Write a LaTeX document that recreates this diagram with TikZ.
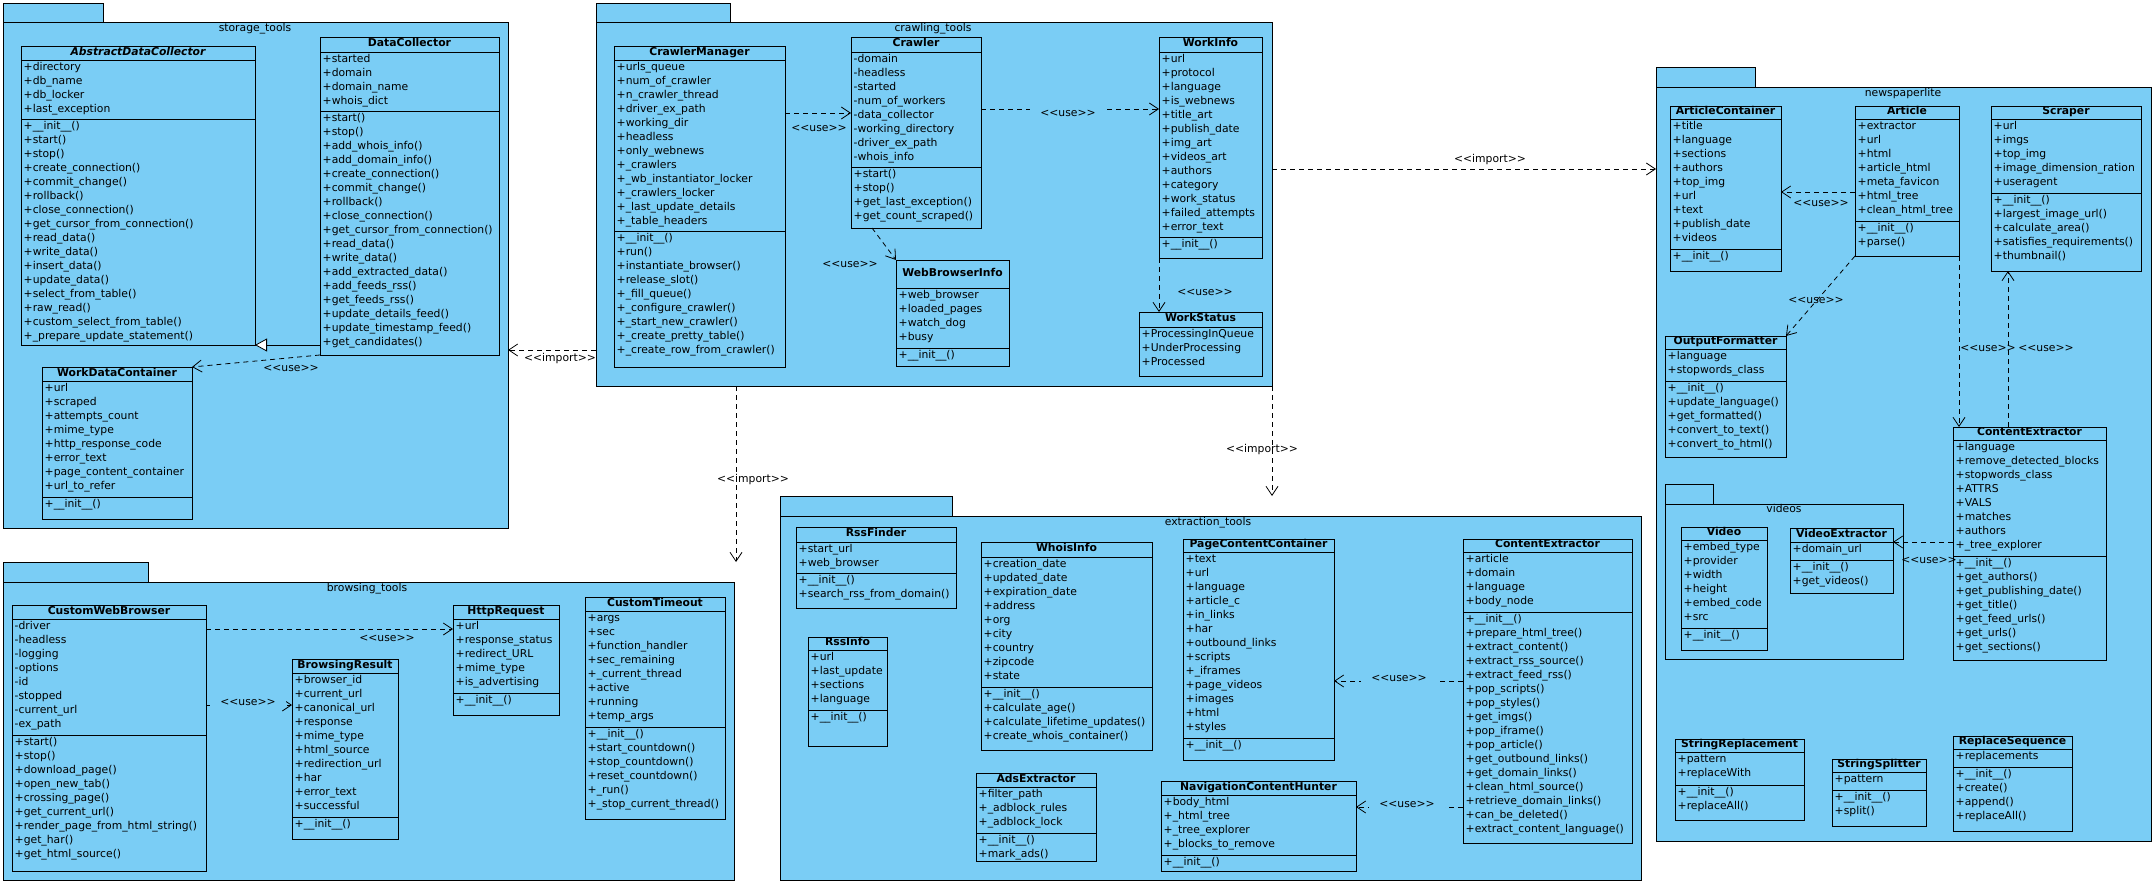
\documentclass[tikz,border=0pt]{standalone}
\usepackage{fontspec}
\newfontfamily\umlfont{DejaVu Sans}
\usetikzlibrary{arrows.meta}
\definecolor{pkgblue}{RGB}{122,205,245}
\tikzset{
  base/.style={font=\umlfont\fontsize{10.8}{14}\selectfont},
  pkgbox/.style={draw=black, fill=pkgblue, line width=0.9pt, inner sep=0pt, outer sep=0pt, anchor=north west},
  clsbox/.style={draw=black, fill=pkgblue, line width=0.9pt, inner sep=0pt, outer sep=0pt, anchor=north west},
  boxline/.style={draw=black, line width=0.9pt},
  ttl/.style={font=\umlfont\bfseries\fontsize{10.8}{14}\selectfont, anchor=mid, inner sep=0pt},
  ln/.style={base, anchor=mid west, inner sep=0pt},
  ptitle/.style={base, anchor=mid, inner sep=0pt},
  lbl/.style={base, inner sep=0pt},
  lblf/.style={base, fill=pkgblue, inner xsep=10pt, inner ysep=1pt},
  dep/.style={draw=black, line width=0.8pt, dash pattern=on 5pt off 4pt, -{Straight Barb[length=9pt,width=12pt]}},
  gen/.style={draw=black, line width=0.8pt, -{Triangle[length=12pt,width=13pt,fill=white]}},
}
% name, x1, tab x2, tab top, body top, x2, y2
\newcommand\umlpkg[7]{%
  \node[pkgbox, minimum width={#3-#2}, minimum height={#5-#4}] (#1-tab) at (#2,#4) {};
  \node[pkgbox, minimum width={#6-#2}, minimum height={#7-#5}] (#1) at (#2,#5) {};
}
% name, x1, y1, x2, y2, header bottom, attrs end (0 = none), title
\newcommand\umlcls[8]{%
  \node[clsbox, minimum width={#4-#2}, minimum height={#5-#3}] (#1) at (#2,#3) {};
  \draw[boxline] (#2,#6) -- (#4,#6);
  \ifnum#7>0 \draw[boxline] (#2,#7) -- (#4,#7);\fi
  \node[ttl] (#1-t) at ({(#2+#4)/2},{(#3+#6)/2}) {#8};
}
% name prefix, x1, compartment top, list
\newcommand\umllines[4]{%
  \foreach \ltext [count=\li] in {#4}{%
    \node[ln] (#1\li) at ({#2+2.5},{#3+8.5+14*(\li-1)}) {\ltext};
  }%
}
\begin{document}
\catcode`\_=12
\begin{tikzpicture}[x=1pt,y=-1pt]
\useasboundingbox (0,0) rectangle (2155,885);
\fill[white] (0,0) rectangle (2155,885);

% ---------------- packages ----------------
\umlpkg{storage}{3}{103}{3}{22}{508}{528}
\node[ptitle] (storage-title) at (255,29) {storage_tools};
\umlpkg{crawling}{596}{730}{3}{22}{1272}{386}
\node[ptitle] (crawling-title) at (933,29) {crawling_tools};
\umlpkg{news}{1656}{1755}{67}{87}{2151}{841}
\node[ptitle] (news-title) at (1903,94) {newspaperlite};
\umlpkg{browsing}{3}{148}{562}{582}{734}{880}
\node[ptitle] (browsing-title) at (367,589) {browsing_tools};
\umlpkg{extraction}{780}{952}{496}{516}{1641}{880}
\node[ptitle] (extraction-title) at (1208,523) {extraction_tools};
\umlpkg{videos}{1665}{1713}{484}{504}{1903}{659}
\node[ptitle] (videos-title) at (1784,510) {videos};

% ---------------- storage_tools ----------------
\umlcls{adc}{21}{46}{255}{345}{60}{119}{\itshape AbstractDataCollector}
\umllines{adc-a}{21}{60}{+directory,+db_name,+db_locker,+last_exception}
\umllines{adc-m}{21}{119}{+__init__(),+start(),+stop(),+create_connection(),+commit_change(),+rollback(),+close_connection(),+get_cursor_from_connection(),+read_data(),+write_data(),+insert_data(),+update_data(),+select_from_table(),+raw_read(),+custom_select_from_table(),+_prepare_update_statement()}

\umlcls{dc}{320}{37}{499}{355}{52}{111}{DataCollector}
\umllines{dc-a}{320}{52}{+started,+domain,+domain_name,+whois_dict}
\umllines{dc-m}{320}{111}{+start(),+stop(),+add_whois_info(),+add_domain_info(),+create_connection(),+commit_change(),+rollback(),+close_connection(),+get_cursor_from_connection(),+read_data(),+write_data(),+add_extracted_data(),+add_feeds_rss(),+get_feeds_rss(),+update_details_feed(),+update_timestamp_feed(),+get_candidates()}

\umlcls{wdc}{42}{367}{192}{519}{381}{497}{WorkDataContainer}
\umllines{wdc-a}{42}{381}{+url,+scraped,+attempts_count,+mime_type,+http_response_code,+error_text,+page_content_container,+url_to_refer}
\umllines{wdc-m}{42}{497}{+__init__()}

% ---------------- crawling_tools ----------------
\umlcls{cm}{614}{46}{785}{367}{60}{231}{CrawlerManager}
\umllines{cm-a}{614}{60}{+urls_queue,+num_of_crawler,+n_crawler_thread,+driver_ex_path,+working_dir,+headless,+only_webnews,+_crawlers,+_wb_instantiator_locker,+_crawlers_locker,+_last_update_details,+_table_headers}
\umllines{cm-m}{614}{231}{+__init__(),+run(),+instantiate_browser(),+release_slot(),+_fill_queue(),+_configure_crawler(),+_start_new_crawler(),+_create_pretty_table(),+_create_row_from_crawler()}

\umlcls{crawler}{851}{37}{981}{228}{52}{167}{Crawler}
\umllines{crawler-a}{851}{52}{-domain,-headless,-started,-num_of_workers,-data_collector,-working_directory,-driver_ex_path,-whois_info}
\umllines{crawler-m}{851}{167}{+start(),+stop(),+get_last_exception(),+get_count_scraped()}

\umlcls{wbi}{896}{260}{1009}{366}{288}{348}{WebBrowserInfo}
\umllines{wbi-a}{896}{288}{+web_browser,+loaded_pages,+watch_dog,+busy}
\umllines{wbi-m}{896}{348}{+__init__()}

\umlcls{workinfo}{1159}{37}{1262}{258}{52}{237}{WorkInfo}
\umllines{workinfo-a}{1159}{52}{+url,+protocol,+language,+is_webnews,+title_art,+publish_date,+img_art,+videos_art,+authors,+category,+work_status,+failed_attempts,+error_text}
\umllines{workinfo-m}{1159}{237}{+__init__()}

\umlcls{workstatus}{1139}{312}{1262}{376}{327}{0}{WorkStatus}
\umllines{workstatus-a}{1139}{327}{+ProcessingInQueue,+UnderProcessing,+Processed}

% ---------------- newspaperlite ----------------
\umlcls{ac}{1670}{106}{1781}{271}{119}{249}{ArticleContainer}
\umllines{ac-a}{1670}{119}{+title,+language,+sections,+authors,+top_img,+url,+text,+publish_date,+videos}
\umllines{ac-m}{1670}{249}{+__init__()}

\umlcls{article}{1855}{106}{1959}{256}{119}{221}{Article}
\umllines{article-a}{1855}{119}{+extractor,+url,+html,+article_html,+meta_favicon,+html_tree,+clean_html_tree}
\umllines{article-m}{1855}{221}{+__init__(),+parse()}

\umlcls{scraper}{1991}{106}{2141}{271}{119}{193}{Scraper}
\umllines{scraper-a}{1991}{119}{+url,+imgs,+top_img,+image_dimension_ration,+useragent}
\umllines{scraper-m}{1991}{193}{+__init__(),+largest_image_url(),+calculate_area(),+satisfies_requirements(),+thumbnail()}

\umlcls{of}{1665}{336}{1786}{457}{349}{381}{OutputFormatter}
\umllines{of-a}{1665}{349}{+language,+stopwords_class}
\umllines{of-m}{1665}{381}{+__init__(),+update_language(),+get_formatted(),+convert_to_text(),+convert_to_html()}

\umlcls{cen}{1953}{427}{2106}{660}{440}{556}{ContentExtractor}
\umllines{cen-a}{1953}{440}{+language,+remove_detected_blocks,+stopwords_class,+ATTRS,+VALS,+matches,+authors,+_tree_explorer}
\umllines{cen-m}{1953}{556}{+__init__(),+get_authors(),+get_publishing_date(),+get_title(),+get_feed_urls(),+get_urls(),+get_sections()}

\umlcls{video}{1681}{527}{1767}{650}{540}{628}{Video}
\umllines{video-a}{1681}{540}{+embed_type,+provider,+width,+height,+embed_code,+src}
\umllines{video-m}{1681}{628}{+__init__()}

\umlcls{ve}{1790}{528}{1893}{593}{542}{560}{VideoExtractor}
\umllines{ve-a}{1790}{542}{+domain_url}
\umllines{ve-m}{1790}{560}{+__init__(),+get_videos()}

\umlcls{sr}{1675}{739}{1804}{820}{752}{785}{StringReplacement}
\umllines{sr-a}{1675}{752}{+pattern,+replaceWith}
\umllines{sr-m}{1675}{785}{+__init__(),+replaceAll()}

\umlcls{ss}{1832}{759}{1926}{826}{772}{790}{StringSplitter}
\umllines{ss-a}{1832}{772}{+pattern}
\umllines{ss-m}{1832}{790}{+__init__(),+split()}

\umlcls{rs}{1953}{736}{2072}{831}{749}{767}{ReplaceSequence}
\umllines{rs-a}{1953}{749}{+replacements}
\umllines{rs-m}{1953}{767}{+__init__(),+create(),+append(),+replaceAll()}

% ---------------- browsing_tools ----------------
\umlcls{cwb}{12}{605}{206}{871}{619}{735}{CustomWebBrowser}
\umllines{cwb-a}{12}{619}{-driver,-headless,-logging,-options,-id,-stopped,-current_url,-ex_path}
\umllines{cwb-m}{12}{735}{+start(),+stop(),+download_page(),+open_new_tab(),+crossing_page(),+get_current_url(),+render_page_from_html_string(),+get_har(),+get_html_source()}

\umlcls{br}{292}{659}{398}{839}{673}{817}{BrowsingResult}
\umllines{br-a}{292}{673}{+browser_id,+current_url,+canonical_url,+response,+mime_type,+html_source,+redirection_url,+har,+error_text,+successful}
\umllines{br-m}{292}{817}{+__init__()}

\umlcls{http}{453}{605}{559}{715}{619}{693}{HttpRequest}
\umllines{http-a}{453}{619}{+url,+response_status,+redirect_URL,+mime_type,+is_advertising}
\umllines{http-m}{453}{693}{+__init__()}

\umlcls{ct}{585}{597}{725}{819}{611}{727}{CustomTimeout}
\umllines{ct-a}{585}{611}{+args,+sec,+function_handler,+sec_remaining,+_current_thread,+active,+running,+temp_args}
\umllines{ct-m}{585}{727}{+__init__(),+start_countdown(),+stop_countdown(),+reset_countdown(),+_run(),+_stop_current_thread()}

% ---------------- extraction_tools ----------------
\umlcls{rssf}{796}{527}{956}{608}{542}{573}{RssFinder}
\umllines{rssf-a}{796}{542}{+start_url,+web_browser}
\umllines{rssf-m}{796}{573}{+__init__(),+search_rss_from_domain()}

\umlcls{rssi}{808}{637}{887}{746}{650}{710}{RssInfo}
\umllines{rssi-a}{808}{650}{+url,+last_update,+sections,+language}
\umllines{rssi-m}{808}{710}{+__init__()}

\umlcls{whois}{981}{542}{1152}{750}{557}{687}{WhoisInfo}
\umllines{whois-a}{981}{557}{+creation_date,+updated_date,+expiration_date,+address,+org,+city,+country,+zipcode,+state}
\umllines{whois-m}{981}{687}{+__init__(),+calculate_age(),+calculate_lifetime_updates(),+create_whois_container()}

\umlcls{ads}{976}{773}{1096}{861}{787}{833}{AdsExtractor}
\umllines{ads-a}{976}{787}{+filter_path,+_adblock_rules,+_adblock_lock}
\umllines{ads-m}{976}{833}{+__init__(),+mark_ads()}

\umlcls{pcc}{1183}{539}{1334}{760}{552}{738}{PageContentContainer}
\umllines{pcc-a}{1183}{552}{+text,+url,+language,+article_c,+in_links,+har,+outbound_links,+scripts,+_iframes,+page_videos,+images,+html,+styles}
\umllines{pcc-m}{1183}{738}{+__init__()}

\umlcls{ce}{1463}{539}{1632}{843}{552}{612}{ContentExtractor}
\umllines{ce-a}{1463}{552}{+article,+domain,+language,+body_node}
\umllines{ce-m}{1463}{612}{+__init__(),+prepare_html_tree(),+extract_content(),+extract_rss_source(),+extract_feed_rss(),+pop_scripts(),+pop_styles(),+get_imgs(),+pop_iframe(),+pop_article(),+get_outbound_links(),+get_domain_links(),+clean_html_source(),+retrieve_domain_links(),+can_be_deleted(),+extract_content_language()}

\umlcls{nch}{1161}{781}{1356}{871}{795}{855}{NavigationContentHunter}
\umllines{nch-a}{1161}{795}{+body_html,+_html_tree,+_tree_explorer,+_blocks_to_remove}
\umllines{nch-m}{1161}{855}{+__init__()}

% ---------------- connectors ----------------
\draw[gen] (dc.west |- adc.south east) -- (adc.south east);
\draw[dep] (dc.south west) -- (wdc.north east);
\node[lbl] (l-dc-wdc) at (291,368) {<<use>>};

\draw[dep] (cm.east |- 0,113) -- (crawler.west |- 0,113);
\node[lbl] (l-cm-cr) at (819,128) {<<use>>};
\draw[dep] (crawler.east |- 0,109) -- (workinfo.west |- 0,109);
\node[lblf] (l-cr-wi) at (1068,113) {<<use>>};
\draw[dep] (872,0 |- crawler.south) -- (wbi.north west);
\node[lbl] (l-cr-wbi) at (850,264) {<<use>>};
\draw[dep] (workinfo.south west) -- (workinfo.south west |- workstatus.north);
\node[lbl] (l-wi-ws) at (1205,292) {<<use>>};

\draw[dep] (crawling.east |- 0,169) -- (news.west |- 0,169);
\node[lbl] (l-imp-news) at (1490,160) {<<import>>};
\draw[dep] (crawling.south east) -- (crawling.south east |- extraction-tab.north);
\node[lbl] (l-imp-ext) at (1262,450) {<<import>>};
\draw[dep] (crawling.west |- 0,350) -- (storage.east |- 0,350);
\node[lbl] (l-imp-sto) at (560,359) {<<import>>};
\draw[dep] (736,0 |- crawling.south) -- (736,0 |- browsing-tab.north);
\node[lbl] (l-imp-bro) at (753,480) {<<import>>};

\draw[dep] (article.west |- 0,192) -- (ac.east |- 0,192);
\node[lbl] (l-art-ac) at (1821,203) {<<use>>};
\draw[dep] (article.south west) -- (of.north east);
\node[lbl] (l-art-of) at (1816,300) {<<use>>};
\draw[dep] (article.south east) -- (article.south east |- cen.north);
\node[lbl] (l-art-cen) at (1988,348) {<<use>>};
\draw[dep] (2008,0 |- cen.north) -- (2008,0 |- scraper.south);
\node[lbl] (l-cen-scr) at (2046,348) {<<use>>};
\draw[dep] (cen.west |- 0,542) -- (ve.east |- 0,542);
\node[lbl] (l-cen-ve) at (1929,560) {<<use>>};

\draw[dep] (cwb.east |- 0,629) -- (http.west |- 0,629);
\node[lbl] (l-cwb-http) at (387,638) {<<use>>};
\draw[dep] (cwb.east |- 0,705) -- (br.west |- 0,705);
\node[lblf] (l-cwb-br) at (248,702) {<<use>>};

\draw[dep] (ce.west |- 0,681) -- (pcc.east |- 0,681);
\node[lblf] (l-ce-pcc) at (1399,678) {<<use>>};
\draw[dep] (ce.west |- 0,807) -- (nch.east |- 0,807);
\node[lblf] (l-ce-nch) at (1407,804) {<<use>>};
\end{tikzpicture}
\end{document}
